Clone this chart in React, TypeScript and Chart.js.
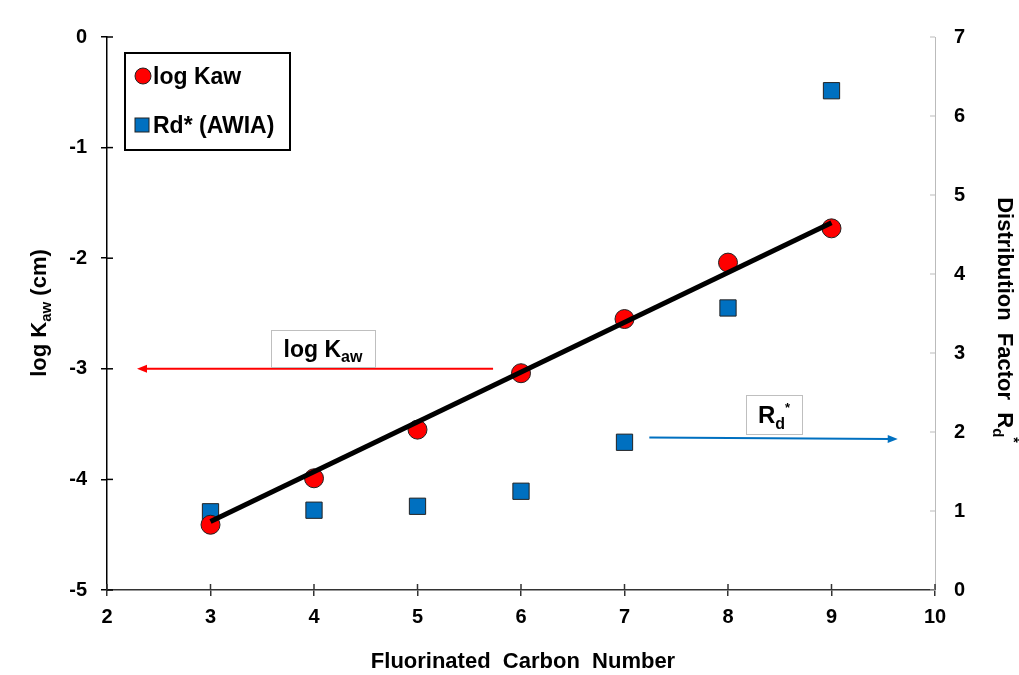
import React, { useEffect, useRef } from "react";
import { Chart, registerables } from "chart.js";

Chart.register(...registerables);

const carbonNumbers = [3, 4, 5, 6, 7, 8, 9];
const logKaw = [-4.41, -3.99, -3.55, -3.04, -2.55, -2.04, -1.73];
const rdAwia = [0.99, 1.01, 1.06, 1.25, 1.87, 3.57, 6.32];
const fitX = [3, 9];
const fitY = [-4.38, -1.68];

const FONT = "'Liberation Sans', Arial, sans-serif";
const RED = "#FF0000";
const BLUE = "#0070C0";

function drawRich(ctx: CanvasRenderingContext2D, parts: { t: string; size: number; dy: number }[], x: number, y: number, align: "center" | "left") {
  let total = 0;
  for (const p of parts) {
    ctx.font = `bold ${p.size}px ${FONT}`;
    total += ctx.measureText(p.t).width;
  }
  let cx = align === "center" ? x - total / 2 : x;
  ctx.textAlign = "left";
  ctx.textBaseline = "alphabetic";
  for (const p of parts) {
    ctx.font = `bold ${p.size}px ${FONT}`;
    ctx.fillText(p.t, cx, y + p.dy);
    cx += ctx.measureText(p.t).width;
  }
}

function arrow(ctx: CanvasRenderingContext2D, x1: number, y1: number, x2: number, y2: number, color: string) {
  ctx.save();
  ctx.strokeStyle = color;
  ctx.fillStyle = color;
  ctx.lineWidth = 2;
  const ang = Math.atan2(y2 - y1, x2 - x1);
  const hl = 10;
  ctx.beginPath();
  ctx.moveTo(x1, y1);
  ctx.lineTo(x2 - Math.cos(ang) * hl * 0.8, y2 - Math.sin(ang) * hl * 0.8);
  ctx.stroke();
  ctx.beginPath();
  ctx.moveTo(x2, y2);
  ctx.lineTo(x2 - Math.cos(ang) * hl + Math.sin(ang) * 4, y2 - Math.sin(ang) * hl - Math.cos(ang) * 4);
  ctx.lineTo(x2 - Math.cos(ang) * hl - Math.sin(ang) * 4, y2 - Math.sin(ang) * hl + Math.cos(ang) * 4);
  ctx.closePath();
  ctx.fill();
  ctx.restore();
}

const decorPlugin = {
  id: "decor",
  afterDraw(chart: any) {
    const ctx: CanvasRenderingContext2D = chart.ctx;
    const { x, y, y2 } = chart.scales;
    const ca = chart.chartArea;
    ctx.save();
    // inside ticks
    ctx.lineWidth = 1.5;
    ctx.strokeStyle = "#000";
    for (let v = -5; v <= 0; v++) {
      const py = y.getPixelForValue(v);
      ctx.beginPath();
      ctx.moveTo(ca.left, py);
      ctx.lineTo(ca.left + 6, py);
      ctx.stroke();
    }
    ctx.strokeStyle = "#333";
    for (let v = 2; v <= 10; v++) {
      const px = x.getPixelForValue(v);
      ctx.beginPath();
      ctx.moveTo(px, ca.bottom);
      ctx.lineTo(px, ca.bottom - 6);
      ctx.stroke();
    }
    ctx.strokeStyle = "#bbb";
    ctx.lineWidth = 1;
    for (let v = 0; v <= 7; v++) {
      const py = y2.getPixelForValue(v);
      ctx.beginPath();
      ctx.moveTo(ca.right, py);
      ctx.lineTo(ca.right - 5, py);
      ctx.stroke();
    }

    ctx.fillStyle = "#000";
    // x title
    drawRich(ctx, [{ t: "Fluorinated  Carbon  Number", size: 22, dy: 0 }], 523, 668, "center");
    // left title
    ctx.save();
    ctx.translate(46, 313);
    ctx.rotate(-Math.PI / 2);
    drawRich(ctx, [
      { t: "log K", size: 22, dy: 0 },
      { t: "aw", size: 15, dy: 5 },
      { t: " (cm)", size: 22, dy: 0 },
    ], 0, 0, "center");
    ctx.restore();
    // right title
    ctx.save();
    ctx.translate(998, 320);
    ctx.rotate(Math.PI / 2);
    drawRich(ctx, [
      { t: "Distribution  Factor  R", size: 22, dy: 0 },
      { t: "d", size: 15, dy: 5 },
      { t: "*", size: 14, dy: -11 },
    ], 0, 0, "center");
    ctx.restore();

    // legend
    ctx.lineWidth = 2;
    ctx.strokeStyle = "#000";
    ctx.fillStyle = "#fff";
    ctx.fillRect(125, 53, 165, 97);
    ctx.strokeRect(125, 53, 165, 97);
    ctx.beginPath();
    ctx.arc(143, 76, 8, 0, Math.PI * 2);
    ctx.fillStyle = RED;
    ctx.fill();
    ctx.lineWidth = 1;
    ctx.strokeStyle = "#222";
    ctx.stroke();
    ctx.fillStyle = BLUE;
    ctx.fillRect(135, 118, 14, 14);
    ctx.strokeRect(135, 118, 14, 14);
    ctx.fillStyle = "#000";
    drawRich(ctx, [{ t: "log Kaw", size: 23, dy: 0 }], 153, 84, "left");
    drawRich(ctx, [{ t: "Rd* (AWIA)", size: 23, dy: 0 }], 153, 133, "left");

    // annotations
    const ry = y.getPixelForValue(-3.0);
    arrow(ctx, x.getPixelForValue(5.73), ry, x.getPixelForValue(2.29), ry, RED);
    const by1 = y2.getPixelForValue(1.93);
    const by2 = y2.getPixelForValue(1.91);
    arrow(ctx, x.getPixelForValue(7.24), by1, x.getPixelForValue(9.64), by2, BLUE);

    ctx.lineWidth = 1;
    ctx.strokeStyle = "#bfbfbf";
    ctx.fillStyle = "#fff";
    ctx.fillRect(271, 330, 104, 37);
    ctx.strokeRect(271.5, 330.5, 104, 37);
    ctx.fillStyle = "#000";
    drawRich(ctx, [
      { t: "log K", size: 23, dy: 0 },
      { t: "aw", size: 16, dy: 5 },
    ], 323, 357, "center");

    ctx.fillStyle = "#fff";
    ctx.fillRect(746, 395, 56, 39);
    ctx.strokeRect(746.5, 395.5, 56, 39);
    ctx.fillStyle = "#000";
    drawRich(ctx, [
      { t: "R", size: 24, dy: 0 },
      { t: "d", size: 16, dy: 6 },
      { t: "*", size: 13, dy: -11 },
    ], 774, 423, "center");

    ctx.restore();
  },
};

export default function App() {
  const ref = useRef<HTMLCanvasElement | null>(null);
  useEffect(() => {
    document.body.style.margin = "0";
    const ctx = ref.current!.getContext("2d")!;
    const tickFont = { family: FONT, size: 20, weight: "bold" as const };
    const chart = new Chart(ctx, {
      type: "scatter",
      data: {
        datasets: [
          {
            label: "fit",
            data: fitX.map((v, i) => ({ x: v, y: fitY[i] })),
            showLine: true,
            borderColor: "#000",
            borderWidth: 5,
            pointRadius: 0,
            yAxisID: "y",
            order: 0,
          },
          {
            label: "log Kaw",
            data: carbonNumbers.map((v, i) => ({ x: v, y: logKaw[i] })),
            backgroundColor: RED,
            borderColor: "#222",
            borderWidth: 1,
            pointRadius: 9.5,
            pointStyle: "circle",
            yAxisID: "y",
            order: 1,
          },
          {
            label: "Rd* (AWIA)",
            data: carbonNumbers.map((v, i) => ({ x: v, y: rdAwia[i] })),
            backgroundColor: BLUE,
            borderColor: "#222",
            borderWidth: 1,
            pointRadius: 11.5,
            pointStyle: "rect",
            yAxisID: "y2",
            order: 2,
          },
        ],
      },
      options: {
        responsive: false,
        animation: false,
        layout: { padding: { top: 37, left: 0, right: 0, bottom: 0 } },
        plugins: { legend: { display: false }, tooltip: { enabled: false } },
        scales: {
          x: {
            type: "linear",
            min: 2,
            max: 10,
            ticks: { stepSize: 1, color: "#000", font: tickFont, padding: 9 },
            grid: { drawOnChartArea: false, tickLength: 6, color: "#333", lineWidth: 1.5 },
            border: { color: "#333", width: 1.5 },
            afterFit: (s: any) => { s.height = 85; },
          },
          y: {
            type: "linear",
            position: "left",
            min: -5,
            max: 0,
            ticks: { stepSize: 1, color: "#000", font: tickFont, padding: 14 },
            grid: { drawOnChartArea: false, tickLength: 6, color: "#000", lineWidth: 1.5 },
            border: { color: "#000", width: 1.5 },
            afterFit: (s: any) => { s.width = 107; },
          },
          y2: {
            type: "linear",
            position: "right",
            min: 0,
            max: 7,
            ticks: { stepSize: 1, color: "#000", font: tickFont, padding: 19 },
            grid: { drawOnChartArea: false, drawTicks: false, color: "#bbb" },
            border: { color: "#bbb", width: 1 },
            afterFit: (s: any) => { s.width = 84; },
          },
        },
      },
      plugins: [decorPlugin],
    } as any);
    return () => chart.destroy();
  }, []);
  return (
    <div style={{ position: "fixed", left: 0, top: 0, width: 1019, height: 675, background: "#fff" }}>
      <canvas ref={ref} width={1019} height={675} />
    </div>
  );
}
